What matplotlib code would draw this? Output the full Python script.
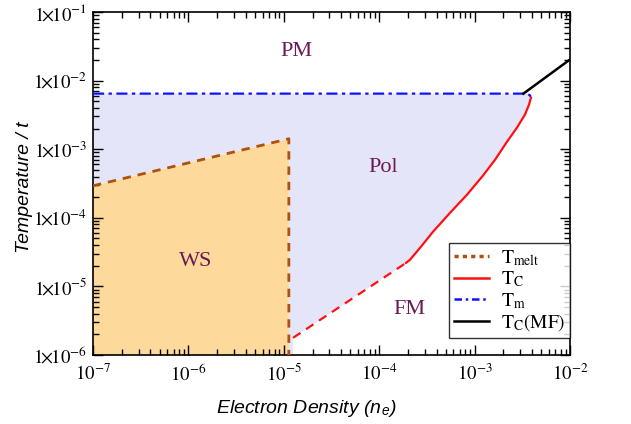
import numpy as np
import matplotlib.pyplot as plt
from matplotlib.lines import Line2D
from matplotlib.ticker import LogLocator, FixedLocator, NullFormatter

plt.rcParams['mathtext.fontset'] = 'stix'
plt.rcParams['font.family'] = 'Liberation Serif'

# phase boundaries (density n_e, temperature / t)
melt_x = [1e-7, 1.13e-5, 1.13e-5]
melt_y = [2.93e-4, 1.42e-3, 1e-6]

tc_dash_x = [1.25e-5, 1.91e-4]
tc_dash_y = [1.78e-6, 2.20e-5]

tc_x = [1.91e-4, 2.10e-4, 2.68e-4, 3.66e-4, 5.52e-4, 8.32e-4, 1.22e-3,
        1.64e-3, 2.19e-3, 2.78e-3, 3.37e-3, 3.72e-3, 3.90e-3]
tc_y = [2.20e-5, 2.44e-5, 3.65e-5, 6.25e-5, 1.18e-4, 2.17e-4, 4.10e-4,
        7.03e-4, 1.29e-3, 2.06e-3, 3.19e-3, 4.46e-3, 5.65e-3]

tm_x = [1e-7, 3.55e-3, 3.8e-3, 3.9e-3]
tm_y = [6.46e-3, 6.46e-3, 6.1e-3, 5.65e-3]

mf_x = [3.25e-3, 1e-2]
mf_y = [6.46e-3, 2.03e-2]

regions = ['PM', 'Pol', 'WS', 'FM']
region_x = [1.37e-5, 1.10e-4, 1.20e-6, 2.10e-4]
region_y = [2.65e-2, 5.37e-4, 2.28e-5, 4.54e-6]

ymin, ymax = 1e-6, 1e-1
xmin, xmax = 1e-7, 1e-2

fig = plt.figure(figsize=(6.31, 4.24), dpi=100)
ax = fig.add_axes([0.1474, 0.1627, 0.7559, 0.809])

# shaded regions
ws_x = [melt_x[0]] + melt_x + [melt_x[0]]
ws_y = [ymin] + melt_y[:2] + [ymin, ymin]
ax.fill(ws_x, ws_y, color='#fdd99b', lw=0, zorder=1)

pol_x = tm_x + tc_x[::-1] + tc_dash_x[::-1] + [tc_dash_x[0], melt_x[1]] + melt_x[1::-1]
pol_y = tm_y + tc_y[::-1] + tc_dash_y[::-1] + [ymin, ymin] + melt_y[1::-1]
ax.fill(pol_x, pol_y, color='#e5e5fa', lw=0, zorder=1)

# boundary lines
melt_col = '#b0500f'
ax.plot(melt_x, melt_y, color=melt_col, lw=2, ls=(0, (3, 2.5)), zorder=3)
ax.plot(tc_x, tc_y, color='#ff1010', lw=1.6, zorder=3)
ax.plot(tc_dash_x, tc_dash_y, color='#ff1010', lw=1.6, ls=(0, (4, 3)), zorder=3)
ax.plot(tm_x, tm_y, color='#1010ff', lw=1.6, ls=(0, (5, 2, 1.5, 2)), zorder=3)
ax.plot(mf_x, mf_y, color='black', lw=1.8, zorder=3)

for name, x, y in zip(regions, region_x, region_y):
    ax.text(x, y, name, color='#6b1a55', fontsize=16, ha='center', va='center',
            family='Liberation Serif', zorder=4)

ax.set_xscale('log')
ax.set_yscale('log')
ax.set_xlim(xmin, xmax)
ax.set_ylim(ymin, ymax)

xt = [1e-7, 1e-6, 1e-5, 1e-4, 1e-3, 1e-2]
ax.xaxis.set_major_locator(FixedLocator(xt))
ax.set_xticklabels([r'$10^{%d}$' % e for e in range(-7, -1)])
yt = [1e-6, 1e-5, 1e-4, 1e-3, 1e-2, 1e-1]
ax.yaxis.set_major_locator(FixedLocator(yt))
ax.set_yticklabels([r'$1\!\!\times\!\!10^{%d}$' % e for e in range(-6, 0)])
for a in (ax.xaxis, ax.yaxis):
    a.set_minor_locator(LogLocator(base=10, subs=np.arange(2, 10), numticks=20))
    a.set_minor_formatter(NullFormatter())

ax.tick_params(which='both', direction='in', top=True, right=True, width=1)
ax.tick_params(which='major', length=7, labelsize=13.5, pad=4)
ax.tick_params(axis='x', which='major', pad=6)
ax.tick_params(which='minor', length=4)
for s in ax.spines.values():
    s.set_linewidth(1.2)

ax.set_xlabel(r'Electron Density (n$_\mathregular{e}$)', family='Liberation Sans',
              style='italic', fontsize=14)
ax.set_ylabel('Temperature / t', family='Liberation Sans', style='italic', fontsize=14)
ax.xaxis.set_label_coords(0.447, -0.125)
ax.yaxis.set_label_coords(-0.125, 0.49)

handles = [
    Line2D([], [], color=melt_col, lw=2.5, ls=(0, (1.2, 1.2))),
    Line2D([], [], color='#ff1010', lw=1.8),
    Line2D([], [], color='#1010ff', lw=1.8, ls=(0, (3, 1.5, 1, 1.5))),
    Line2D([], [], color='black', lw=1.8),
]
labels = [r'$\mathrm{T_{melt}}$', r'$\mathrm{T_C}$', r'$\mathrm{T_m}$', r'$\mathrm{T_C(MF)}$']
leg = ax.legend(handles, labels, loc='lower right', bbox_to_anchor=(1.0, 0.05),
                fontsize=14, frameon=True, fancybox=False, edgecolor='black',
                handlelength=1.8, borderaxespad=0, labelspacing=0.08,
                handletextpad=0.6, borderpad=0.25)
leg.get_frame().set_linewidth(1.0)
leg.set_zorder(5)

fig.savefig('out.png', dpi=100)
